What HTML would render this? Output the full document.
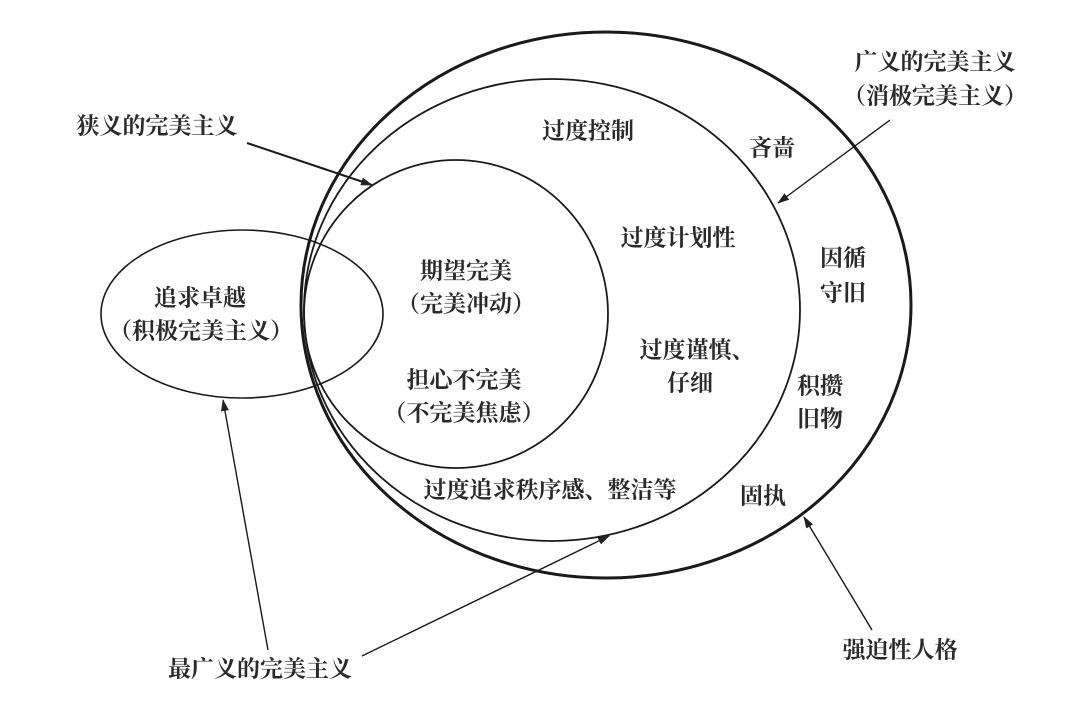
<!DOCTYPE html>
<html><head><meta charset="utf-8"><style>
html,body{margin:0;padding:0;background:#fff;}
svg{display:block;}
text{font-family:"Liberation Serif","Noto Serif CJK SC","Noto Sans CJK SC",serif;font-size:23px;font-weight:bold;fill:#2a2a2a;text-anchor:middle;dominant-baseline:middle;}
</style></head><body>
<svg width="1080" height="716" viewBox="0 0 1080 716" xmlns="http://www.w3.org/2000/svg">
<defs>
<marker id="a" markerWidth="12" markerHeight="8" refX="11" refY="4" orient="auto" markerUnits="userSpaceOnUse">
<path d="M0,0 L12,4 L0,8 Z" fill="#222"/></marker>
</defs>
<g fill="none" stroke="#1a1a1a">
<ellipse cx="606" cy="305" rx="305" ry="273" stroke-width="3"/>
<ellipse cx="552" cy="310" rx="248" ry="231" stroke-width="1.8"/>
<ellipse cx="456" cy="314" rx="152" ry="154" stroke-width="1.8"/>
<ellipse cx="242" cy="314" rx="141" ry="84" stroke-width="1.6"/>
<line x1="247" y1="143" x2="372" y2="185" stroke-width="2" marker-end="url(#a)"/>
<line x1="268" y1="650" x2="223" y2="400" stroke-width="1.4" marker-end="url(#a)"/>
<line x1="362" y1="656" x2="609" y2="536" stroke-width="1.4" marker-end="url(#a)"/>
<line x1="890" y1="120" x2="778" y2="203" stroke-width="1.4" marker-end="url(#a)"/>
<line x1="872" y1="630" x2="804" y2="517" stroke-width="1.4" marker-end="url(#a)"/>
</g>
<text x="157" y="128">狭义的完美主义</text>
<text x="935" y="64">广义的完美主义</text>
<text x="935" y="98">（消极完美主义）</text>
<text x="588" y="133">过度控制</text>
<text x="772" y="150">吝啬</text>
<text x="678" y="240">过度计划性</text>
<text x="843" y="260">因循</text>
<text x="843" y="295">守旧</text>
<text x="466" y="273">期望完美</text>
<text x="466" y="306">（完美冲动）</text>
<text x="200" y="300">追求卓越</text>
<text x="201" y="333">（积极完美主义）</text>
<text x="697" y="352">过度谨慎、</text>
<text x="690" y="385">仔细</text>
<text x="820" y="388">积攒</text>
<text x="820" y="421">旧物</text>
<text x="464" y="382">担心不完美</text>
<text x="464" y="415">（不完美焦虑）</text>
<text x="550" y="492">过度追求秩序感、整洁等</text>
<text x="763" y="498">固执</text>
<text x="260" y="671">最广义的完美主义</text>
<text x="900" y="652">强迫性人格</text>
</svg>
</body></html>
